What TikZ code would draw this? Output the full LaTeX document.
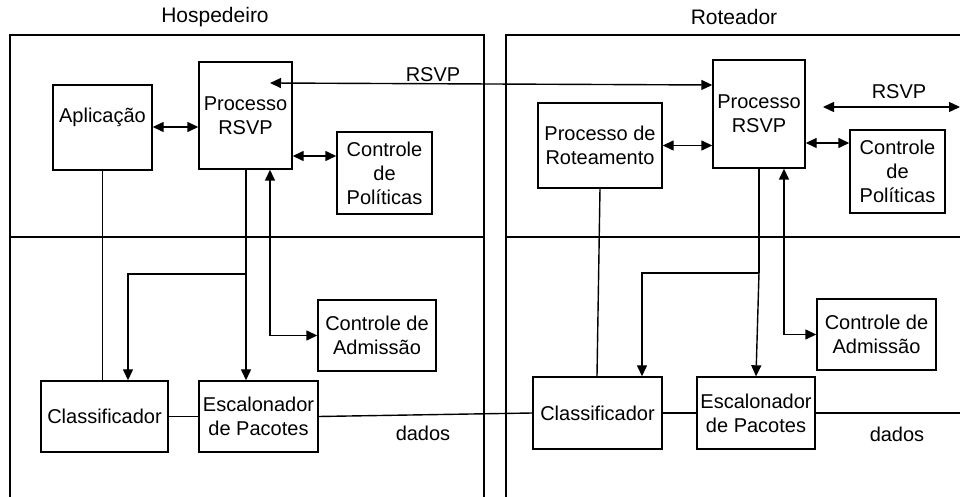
\documentclass[tikz,border=0pt]{standalone}
\usepackage{fontspec}
\setmainfont{Liberation Sans}
\usetikzlibrary{arrows.meta}

\tikzset{
  blk/.style={draw, line width=0.7pt, inner sep=0pt, align=center},
  conn/.style={line width=0.7pt, >={Triangle[length=5.5pt,width=5pt]}},
  frame/.style={line width=1.1pt},
  title/.style={font=\fontsize{10.5}{12.6}\selectfont},
}

\begin{document}
\begin{tikzpicture}[x=0.5pt, y=-0.5pt]
  \clip (0,0) rectangle (960,497);
  % the two machines
  \draw[frame] (10,497) -- (10,35) -- (484,35) -- (484,497);
  \draw[frame] (506,497) -- (506,35) -- (965,35);
  \draw[conn] (10,237) -- (484,237);
  \draw[conn] (506,237) -- (965,237);
  \node[title] (hostTitle) at (215,17) {Hospedeiro};
  \node[title] (routerTitle) at (734,17) {Roteador};

  % host blocks
  \node[blk, minimum width=49.5pt, minimum height=42.5pt, text depth=12pt] (app) at (102.5,127.5) {Aplicação};
  \node[blk, minimum width=46.5pt, minimum height=53.5pt] (rsvpA) at (245.5,115.5) {Processo\\RSVP};
  \node[blk, minimum width=47.5pt, minimum height=41pt] (polA) at (384.5,173) {Controle\\de\\Políticas};
  \node[blk, minimum width=59pt, minimum height=35.5pt] (admA) at (377,335.5) {Controle de\\Admissão};
  \node[blk, minimum width=63.5pt, minimum height=35.5pt] (clsA) at (104.5,416.5) {Classificador};
  \node[blk, minimum width=59.5pt, minimum height=35.5pt] (escA) at (258.5,416.5) {Escalonador\\de Pacotes};

  % router blocks
  \node[blk, minimum width=62pt, minimum height=42.5pt] (rot) at (600,145.5) {Processo de\\Roteamento};
  \node[blk, minimum width=46pt, minimum height=54pt] (rsvpB) at (759,114) {Processo\\RSVP};
  \node[blk, minimum width=47.5pt, minimum height=41.5pt] (polB) at (897.5,171.5) {Controle\\de\\Políticas};
  \node[blk, minimum width=59.5pt, minimum height=35.5pt] (admB) at (876.5,334.5) {Controle de\\Admissão};
  \node[blk, minimum width=64.5pt, minimum height=36pt] (clsB) at (597.5,413) {Classificador};
  \node[blk, minimum width=59pt, minimum height=36pt] (escB) at (756,413) {Escalonador\\de Pacotes};

  \coordinate (tipA) at (270,83);
  \coordinate (brA) at (246,274);
  \coordinate (brB) at (759,273);
  \coordinate (outL) at (823,107);
  \coordinate (outR) at (960,107);
  \coordinate (dataR) at (965,413);

  % host connectors
  \draw[conn, <->] (app.east |- 0,127) -- (rsvpA.west |- 0,127);
  \draw[conn, <->] (rsvpA.east |- 0,156) -- (polA.west |- 0,156);
  \draw[conn, <->] (tipA) -- (rsvpB.west |- 0,85);
  \draw[conn, ->] (rsvpA.south -| brA) -- (brA |- escA.north);
  \draw[conn, ->] (brA) -| (clsA.north -| 128,0);
  \draw[conn, <->] (rsvpA.south -| 270,0) |- (admA.west);
  \draw[conn] (app.south) -- (app.south |- clsA.north);
  \draw[conn] (clsA) -- (escA);
  \draw[conn] (escA.east) -- (clsB.west);

  % router connectors
  \draw[conn, <->] (rot.east) -- (rot.east -| rsvpB.west);
  \draw[conn, <->] (rsvpB.east |- 0,143) -- (polB.west |- 0,143);
  \draw[conn, <->] (outL) -- (outR);
  \draw[conn] (rsvpB.south) -- (brB);
  \draw[conn, ->] (brB) -- (escB.north);
  \draw[conn, ->] (brB) -| (clsB.north -| 642,0);
  \draw[conn, <->] (rsvpB.south -| 784,0) |- (admB.west);
  \draw[conn] (rot.south) -- (clsB.north -| 597,0);
  \draw[conn] (clsB) -- (escB);
  \draw[conn] (escB.east) -- (dataR);

  % labels
  \node (sigA) at (433,75) {RSVP};
  \node (sigB) at (899,92) {RSVP};
  \node (dataA) at (423,433) {dados};
  \node (dataB) at (897,434) {dados};
\end{tikzpicture}
\end{document}
